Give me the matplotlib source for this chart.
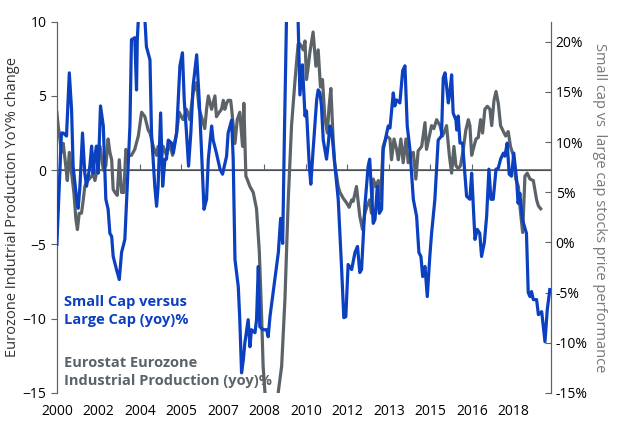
import numpy as np
import matplotlib
matplotlib.use('Agg')
import matplotlib.pyplot as plt

# small cap vs large cap (yoy %), right axis; x = years after 2000
blue_t = [0.00,0.18,0.25,0.38,0.49,0.58,0.64,0.78,0.84,0.91,1.01,1.10,1.17,1.30,1.37,1.43,1.50,1.56,1.63,1.72,
	1.83,1.93,2.02,2.09,2.16,2.22,2.35,2.46,2.55,2.68,2.75,2.88,2.94,3.07,3.14,3.17,3.21,3.30,3.40,3.47,
	3.53,3.67,3.73,3.86,3.93,3.99,4.09,4.17,4.26,4.32,4.39,4.52,4.59,4.72,4.85,4.95,5.02,5.11,5.19,5.28,
	5.37,5.51,5.61,5.70,5.80,5.90,5.97,6.10,6.16,6.29,6.43,6.53,6.69,6.75,6.89,6.95,7.02,7.15,7.21,7.28,
	7.35,7.41,7.54,7.61,7.67,7.81,7.87,7.94,8.00,8.13,8.27,8.33,8.40,8.59,8.73,8.82,8.90,8.97,9.05,9.20,
	9.35,9.51,9.58,9.68,9.78,9.84,9.95,10.01,10.10,10.24,10.30,10.37,10.43,10.50,10.63,10.70,10.76,10.83,10.96,11.09,
	11.22,11.31,11.39,11.48,11.62,11.75,11.85,11.94,12.01,12.14,12.27,12.33,12.47,12.54,12.63,12.71,12.80,12.86,13.06,13.13,
	13.26,13.32,13.39,13.52,13.63,13.72,13.81,13.92,14.05,14.18,14.27,14.35,14.42,14.51,14.60,14.70,14.77,14.90,15.03,15.16,
	15.23,15.30,15.36,15.43,15.49,15.56,15.62,15.73,15.76,15.82,15.89,15.99,16.08,16.15,16.28,16.35,16.41,16.48,16.57,16.67,
	16.74,16.85,16.94,17.03,17.11,17.20,17.31,17.40,17.49,17.60,17.66,17.75,17.83,17.92,18.01,18.12,18.18,18.25,18.35,18.51,
	18.58,18.65,18.71,18.78,18.91,18.98,19.11,19.24,19.33,19.43]
blue_v = [-0.2,10.9,10.9,10.6,16.9,13.2,7.6,4.3,3.4,5.6,10.9,6.9,5.6,7.6,9.6,6.9,8.6,9.6,6.9,13.6,
	11.6,4.3,3.3,0.9,0.6,-1.4,-2.7,-3.7,-1.0,0.3,4.3,11.6,20.2,20.4,15.2,20.2,22.2,26,27,22.2,
	19.5,18.2,10.9,5.6,3.6,5.6,12.9,5.6,8.3,8.3,10.2,9.9,8.9,10.9,17.6,18.9,14.2,10.9,7.6,10.9,
	15.6,18.7,14.2,9.2,3.3,4.3,8.3,11.6,10.2,8.9,7.3,6.8,8.6,10.9,12.2,8.3,-1.7,-4.4,-7.7,-13.0,
	-11.7,-10.0,-7.7,-10.4,-8.7,-9.0,-7.7,-2.4,-8.4,-8.7,-8.7,-9.4,-7.4,-3.7,-1.0,2.4,-0.1,10.9,22.2,26,
	26,22.0,14.7,17.7,12.6,13.1,7.6,5.8,9.2,14.2,15.2,14.9,13.6,10.2,8.3,9.9,11.6,11.2,7.6,4.3,
	-2.4,-7.5,-7.4,-2.2,-2.7,-1.0,-0.4,-3.0,-2.7,3.6,7.6,8.3,1.9,2.3,5.6,2.9,3.3,9.2,11.6,11.4,
	14.9,13.6,14.2,13.9,17.1,17.6,11.6,9.2,4.3,2.6,-1.0,-1.4,-3.4,-2.4,-5.4,-1.4,0.9,4.3,10.2,10.6,
	16.4,16.9,15.6,13.9,14.9,16.7,12.9,12.2,11.2,12.6,9.9,9.9,6.9,4.6,4.3,6.9,3.9,0.3,1.3,0.9,
	-1.4,0.0,2.6,7.3,4.3,4.3,7.3,7.4,8.3,8.9,8.6,9.9,6.8,6.6,8.9,6.3,3.9,4.9,2.3,0.9,
	-5.0,-5.4,-4.9,-5.7,-5.7,-7.2,-6.9,-9.9,-6.7,-4.7]

# eurostat eurozone industrial production (yoy %), left axis
gray_t = [0.00,0.05,0.12,0.18,0.25,0.35,0.41,0.49,0.58,0.67,0.75,0.81,0.88,0.97,1.04,1.10,1.17,1.27,1.37,1.43,
	1.50,1.56,1.63,1.70,1.83,1.93,2.02,2.09,2.16,2.22,2.29,2.38,2.46,2.55,2.64,2.72,2.81,2.94,3.07,3.21,
	3.34,3.47,3.60,3.67,3.80,3.93,3.99,4.13,4.19,4.32,4.45,4.56,4.61,4.72,4.82,4.91,4.98,5.11,5.24,5.37,
	5.51,5.61,5.70,5.83,5.90,5.97,6.10,6.23,6.29,6.40,6.49,6.56,6.62,6.69,6.75,6.85,6.89,7.02,7.11,7.21,
	7.32,7.37,7.45,7.50,7.61,7.74,7.87,7.98,8.07,8.13,8.20,8.35,8.55,8.73,8.86,8.99,9.12,9.25,9.38,9.51,
	9.58,9.71,9.78,9.84,9.91,9.97,10.10,10.21,10.30,10.39,10.47,10.56,10.66,10.73,10.80,10.89,10.95,11.09,11.16,11.29,
	11.42,11.52,11.62,11.68,11.81,11.88,11.94,12.05,12.14,12.23,12.33,12.40,12.47,12.57,12.67,12.76,12.86,13.00,13.13,13.19,
	13.29,13.39,13.46,13.56,13.65,13.76,13.85,13.94,14.05,14.15,14.24,14.38,14.51,14.57,14.68,14.77,14.86,14.97,15.10,15.20,
	15.30,15.36,15.47,15.56,15.65,15.73,15.82,15.91,16.02,16.12,16.22,16.28,16.35,16.44,16.52,16.61,16.70,16.78,16.87,16.97,
	17.07,17.14,17.23,17.31,17.40,17.49,17.60,17.69,17.79,17.88,17.99,18.09,18.19,18.25,18.36,18.45,18.54,18.65,18.78,18.91,
	18.98,19.07]
gray_v = [3.9,3.0,2.1,1.2,1.8,0.3,-0.7,1.2,-0.2,-1.5,-3.3,-4.0,-2.9,-2.9,-2.0,-1.1,-0.8,-0.6,-0.4,-0.2,
	-0.7,-0.2,0.7,1.6,0.0,0.3,2.1,1.2,0.7,-1.3,-1.5,-1.7,0.7,-1.5,-1.5,1.4,1.0,1.0,1.4,2.3,
	3.9,3.6,2.7,2.5,1.6,1.0,1.6,1.0,1.6,1.0,1.8,1.0,1.6,2.5,3.9,3.6,3.4,4.1,3.4,5.2,
	5.9,4.1,3.6,2.8,4.1,5.0,4.1,5.0,3.6,3.9,4.1,4.7,4.1,4.5,4.7,4.7,4.1,1.8,3.4,3.9,
	1.6,4.5,-0.4,-0.6,-1.1,-1.5,-2.6,-5.5,-9.8,-13.2,-14.9,-20,-21,-14.9,-13.2,-8.7,-2.0,3.0,5.9,8.5,
	8.5,8.1,8.7,6.1,7.0,7.9,9.3,7.0,8.1,5.6,6.1,3.6,2.5,4.3,5.5,2.1,0.5,-1.1,-1.5,-1.9,
	-2.2,-2.5,-2.0,-2.1,-1.1,-2.2,-3.1,-4.0,-2.9,-2.4,-2.0,-2.9,-0.6,-1.1,-0.7,-1.9,1.6,2.3,2.1,0.7,
	2.1,1.4,0.7,2.1,0.5,2.1,0.5,1.0,1.2,-0.6,1.3,1.6,3.2,1.4,2.3,3.0,2.8,3.4,3.0,2.3,
	2.7,3.0,1.0,-0.2,1.6,0.3,0.1,0.3,1.4,2.7,3.4,3.0,1.0,1.6,2.1,2.2,3.4,2.5,4.1,4.3,
	4.1,3.0,4.7,5.3,4.5,3.0,2.6,2.3,2.6,1.6,1.0,-0.6,-1.1,-2.4,-4.2,-0.4,-0.2,-0.6,-0.7,-2.0,
	-2.4,-2.6]

tick_labels = ['2000','2002','2004','2005','2007','2008','2010','2012','2013','2015','2016','2018']
tick_step = 1.636

BLUE = '#0b40c0'
GRAY = '#5b6369'
plt.rcParams['font.family'] = ['Open Sans', 'DejaVu Sans']

fig = plt.figure(figsize=(6.39, 4.42), dpi=100)
ax = fig.add_axes([0.089, 0.111, 0.773, 0.840])
ax2 = ax.twinx()

ax.plot(np.array(gray_t) + 2000, gray_v, color=GRAY, lw=2.3, zorder=2)
ax2.plot(np.array(blue_t) + 2000, blue_v, color=BLUE, lw=2.3, zorder=3)

ticks = 2000 + tick_step*np.arange(len(tick_labels))
ax.set_xlim(2000, 2019.47)
ax.set_ylim(-15, 10)
ax2.set_ylim(-15, 22)
ax.set_xticks(ticks)
ax.set_xticklabels(tick_labels, fontsize=10)
ax.tick_params(axis='x', length=0, pad=8)
ax.set_yticks([-15, -10, -5, 0, 5, 10])
ax.tick_params(axis='y', labelsize=10, length=4, color=GRAY)
ax2.set_yticks(range(-15, 21, 5))
ax2.set_yticklabels(['%d%%' % v for v in range(-15, 21, 5)])
ax2.tick_params(axis='y', labelsize=10, length=4, direction='in', color=GRAY)

for a in (ax, ax2):
	a.spines['top'].set_visible(False)
	a.spines['bottom'].set_visible(False)
	a.spines['left'].set_color(GRAY)
	a.spines['right'].set_color(GRAY)

ax.axhline(0, color=GRAY, lw=1.2, zorder=1)
sec = ax.secondary_xaxis(0.6)
sec.set_xticks(ticks[1:])
sec.set_xticklabels([])
sec.tick_params(length=4, color=GRAY)
sec.spines['bottom'].set_visible(False)

ax.set_ylabel('Eurozone Indutrial Production YoY% change', fontsize=10.5, color='#333333', labelpad=2)
ax2.set_ylabel('Small cap vs  large cap stocks price performance', fontsize=10.5, color='#777777',
	rotation=270, labelpad=14)

ax.text(0.015, 0.265, 'Small Cap versus\nLarge Cap (yoy)%', transform=ax.transAxes, color=BLUE,
	fontsize=10.5, fontweight='bold', linespacing=1.4, va='top')
ax.text(0.015, 0.1, 'Eurostat Eurozone\nIndustrial Production (yoy)%', transform=ax.transAxes, color=GRAY,
	fontsize=10.5, fontweight='bold', linespacing=1.4, va='top')

fig.savefig('out.png', dpi=100)
